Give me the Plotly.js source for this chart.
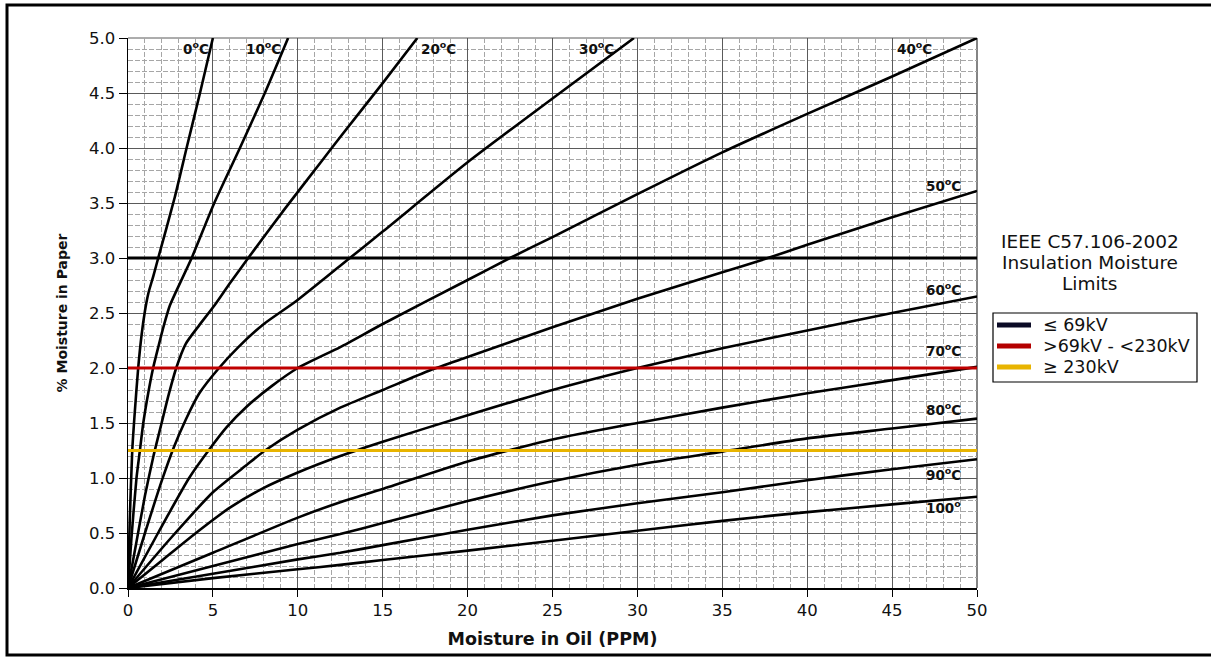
<!DOCTYPE html>
<html>
<head>
<meta charset="utf-8">
<script src="https://cdn.plot.ly/plotly-3.0.1.min.js"></script>
<style>
html,body{margin:0;padding:0;background:#fff;}
#chart{width:1211px;height:657px;}
</style>
</head>
<body>
<div id="chart"></div>
<script>
// ---- Data ----
const curveNames = ['0<sup>o</sup>C','10<sup>o</sup>C','20<sup>o</sup>C','30<sup>o</sup>C','40<sup>o</sup>C','50<sup>o</sup>C','60<sup>o</sup>C','70<sup>o</sup>C','80<sup>o</sup>C','90<sup>o</sup>C','100<sup>o</sup>'];

const oil_0C   = [0, 0.1, 0.25, 0.4, 0.6, 0.8, 1.0, 1.2, 1.5, 1.78, 2.75, 3.45, 4.24, 5.0];
const paper_0C = [0, 0.6, 1.25, 1.6, 2.0, 2.3, 2.52, 2.68, 2.84, 3.0, 3.55, 4.0, 4.5, 5.0];

const oil_10C   = [0, 0.2, 0.5, 0.7, 0.9, 1.2, 1.48, 1.8, 2.1, 2.47, 3.75, 5.08, 6.59, 8.06, 9.43];
const paper_10C = [0, 0.45, 1.0, 1.25, 1.5, 1.78, 2.0, 2.2, 2.38, 2.57, 3.0, 3.5, 4.0, 4.5, 5.0];

const oil_20C   = [0, 0.5, 1.0, 1.5, 1.98, 2.4, 2.84, 3.4, 4.2, 5.1, 6.0, 7.08, 9.2, 11.4, 12.5, 15.0, 17.04];
const paper_20C = [0, 0.42, 0.84, 1.2, 1.5, 1.76, 2.0, 2.22, 2.39, 2.57, 2.77, 3.0, 3.44, 3.88, 4.1, 4.59, 5.0];

const oil_30C   = [0, 1.0, 2.0, 2.7, 3.4, 4.2, 5.36, 6.5, 8.0, 9.83, 12.5, 15, 20, 25, 29.8];
const paper_30C = [0, 0.5, 0.98, 1.28, 1.53, 1.77, 2.0, 2.19, 2.4, 2.6, 2.93, 3.24, 3.87, 4.45, 5.0];

const oil_40C   = [0, 1.77, 3.6, 4.84, 5.8, 7.0, 8.5, 10, 12.5, 15, 20, 22.5, 25, 30, 35, 40, 45, 50];
const paper_40C = [0, 0.5, 1.0, 1.27, 1.46, 1.65, 1.84, 2.0, 2.19, 2.4, 2.8, 3.0, 3.19, 3.58, 3.96, 4.31, 4.65, 5.0];

const oil_50C   = [0, 2.5, 5.0, 7.0, 8.07, 10, 12.5, 15, 17.8, 20, 25, 30, 35, 37.5, 40, 45, 50];
const paper_50C = [0, 0.45, 0.87, 1.12, 1.25, 1.44, 1.64, 1.8, 1.98, 2.1, 2.37, 2.63, 2.87, 2.99, 3.12, 3.37, 3.61];

const oil_60C   = [0, 2, 4, 6, 8, 10, 12.5, 15, 20, 25, 30, 35, 40, 45, 50];
const paper_60C = [0, 0.25, 0.5, 0.73, 0.91, 1.05, 1.2, 1.33, 1.57, 1.8, 2.0, 2.18, 2.34, 2.5, 2.65];

const oil_70C   = [0, 5, 10, 12.5, 15, 20, 25, 30, 35, 40, 45, 50];
const paper_70C = [0, 0.32, 0.64, 0.78, 0.9, 1.15, 1.35, 1.5, 1.64, 1.77, 1.89, 2.01];

const oil_80C   = [0, 5, 10, 12.5, 15, 20, 25, 30, 35, 40, 45, 50];
const paper_80C = [0, 0.2, 0.4, 0.49, 0.59, 0.79, 0.97, 1.12, 1.24, 1.36, 1.45, 1.54];

const oil_90C   = [0, 5, 10, 12.5, 15, 20, 25, 30, 35, 40, 45, 50];
const paper_90C = [0, 0.13, 0.26, 0.32, 0.39, 0.53, 0.66, 0.77, 0.87, 0.98, 1.08, 1.17];

const oil_100C   = [0, 5, 10, 12.5, 15, 20, 25, 30, 35, 40, 45, 50];
const paper_100C = [0, 0.09, 0.17, 0.21, 0.255, 0.34, 0.43, 0.52, 0.61, 0.69, 0.76, 0.83];

const limitNames  = ['\u2264 69kV', '>69kV - <230kV', '\u2265 230kV'];
const limitValues = [3.0, 2.0, 1.25];
const limitOilSpan = [0, 50.5];

const xTickVals = [0,5,10,15,20,25,30,35,40,45,50];
const yTickVals = [0,0.5,1,1.5,2,2.5,3,3.5,4,4.5,5];
const legendTitleLines = ['IEEE C57.106-2002', 'Insulation Moisture', 'Limits'];

// ---- Styles ----
const FONT = 'DejaVu Sans, Verdana, sans-serif';
const limitColors  = ['#000000', '#c00000', '#e8b400'];
const legendColors = ['#0b0b26', '#b40000', '#e8b400'];
const gridMajor = '#5a5a5a';
const gridMinor = '#a6a6a6';
const minorDash = '5px,2px';

// ---- Build traces ----
const curveX = [oil_0C, oil_10C, oil_20C, oil_30C, oil_40C, oil_50C, oil_60C, oil_70C, oil_80C, oil_90C, oil_100C];
const curveY = [paper_0C, paper_10C, paper_20C, paper_30C, paper_40C, paper_50C, paper_60C, paper_70C, paper_80C, paper_90C, paper_100C];

const traces = [];
for (let i = 0; i < curveX.length; i++) {
  traces.push({
    x: curveX[i], y: curveY[i], type: 'scatter', mode: 'lines',
    line: {color: '#000', width: 2.6, shape: 'spline', smoothing: 0.6},
    showlegend: false, hoverinfo: 'skip', cliponaxis: true
  });
}
for (let i = 0; i < limitValues.length; i++) {
  traces.push({
    x: limitOilSpan, y: [limitValues[i], limitValues[i]], type: 'scatter', mode: 'lines',
    line: {color: limitColors[i], width: 3}, name: limitNames[i], cliponaxis: false,
    showlegend: false, hoverinfo: 'skip'
  });
}

// ---- Annotations ----
const labelPos = [[4.0,4.91],[8.0,4.91],[18.3,4.91],[27.6,4.91],[46.3,4.91],[48.0,3.66],[48.0,2.72],[48.0,2.16],[48.0,1.63],[48.0,1.04],[48.0,0.74]];
const annotations = curveNames.map((t, i) => ({
  x: labelPos[i][0], y: labelPos[i][1], xref: 'x', yref: 'y', text: '<b>' + t + '</b>',
  showarrow: false, font: {family: FONT, size: 13.5, color: '#111'}
}));
const pxX = p => (p - 128) / 849;   // figure px -> paper x
const pxY = p => (588 - p) / 550;   // figure px -> paper y
const titleRowY = [241, 262, 283];
legendTitleLines.forEach((t, i) => annotations.push({
  x: pxX(1090), y: pxY(titleRowY[i]), xref: 'paper', yref: 'paper', xanchor: 'center', yanchor: 'middle',
  text: t, showarrow: false, font: {family: FONT, size: 18.5, color: '#111'}
}));

// manual legend: box, line samples and labels
const legendRowY = [325, 346, 367];
const shapes = [
  {type: 'rect', xref: 'paper', yref: 'paper', x0: pxX(7), x1: pxX(1340), y0: pxY(655), y1: pxY(5),
   line: {color: '#000', width: 3}, fillcolor: 'rgba(0,0,0,0)', layer: 'above'},
  {type: 'rect', xref: 'paper', yref: 'paper', x0: pxX(993), x1: pxX(1197), y0: pxY(382), y1: pxY(313),
   line: {color: '#000', width: 1.2}, fillcolor: '#fff', layer: 'above'}
];
limitNames.forEach((n, i) => {
  shapes.push({type: 'line', xref: 'paper', yref: 'paper', x0: pxX(997), x1: pxX(1031),
    y0: pxY(legendRowY[i]), y1: pxY(legendRowY[i]), line: {color: legendColors[i], width: 5}, layer: 'above'});
  annotations.push({x: pxX(1041), y: pxY(legendRowY[i]), xref: 'paper', yref: 'paper',
    xanchor: 'left', yanchor: 'middle', text: n, showarrow: false,
    font: {family: FONT, size: 17.5, color: '#111'}});
});

const layout = {
  width: 1211, height: 657,
  margin: {l: 128, r: 234, t: 38, b: 69, pad: 0},
  paper_bgcolor: '#fff', plot_bgcolor: '#fff',
  font: {family: FONT, size: 16, color: '#111'},
  showlegend: false,
  xaxis: {
    range: [0, 50], tickvals: xTickVals, ticktext: xTickVals.map(String),
    showgrid: true, gridcolor: gridMajor, gridwidth: 1,
    zeroline: false, showline: true, linecolor: '#000', linewidth: 1.5, mirror: false,
    ticks: 'outside', ticklen: 7, tickcolor: '#000', tickwidth: 1,
    tickfont: {family: FONT, size: 16.5, color: '#111'},
    minor: {dtick: 1, tick0: 0, showgrid: true, gridcolor: gridMinor, griddash: minorDash, gridwidth: 1, ticks: ''},
    title: {text: '<b>Moisture in Oil (PPM)</b>', font: {family: FONT, size: 17.5, color: '#111'}, standoff: 13},
    fixedrange: true
  },
  yaxis: {
    range: [0, 5], tickvals: yTickVals, ticktext: yTickVals.map(v => v.toFixed(1)),
    showgrid: true, gridcolor: gridMajor, gridwidth: 1,
    zeroline: false, showline: true, linecolor: '#000', linewidth: 1.5, mirror: false,
    ticks: 'outside', ticklen: 8, tickcolor: '#000', tickwidth: 1,
    tickfont: {family: FONT, size: 16.5, color: '#111'},
    minor: {dtick: 0.1, tick0: 0, showgrid: true, gridcolor: gridMinor, griddash: minorDash, gridwidth: 1, ticks: ''},
    title: {text: '<b>% Moisture in Paper</b>', font: {family: FONT, size: 14, color: '#111'}, standoff: 18},
    fixedrange: true
  },
  annotations: annotations,
  shapes: shapes.concat([
    {type: 'line', xref: 'paper', yref: 'paper', x0: 1, x1: 1, y0: 0, y1: 1,
     line: {color: '#333', width: 1.2}, layer: 'below'},
    {type: 'line', xref: 'paper', yref: 'paper', x0: 0, x1: 1, y0: 1, y1: 1,
     line: {color: gridMajor, width: 1}, layer: 'below'}
  ])
};

Plotly.newPlot('chart', traces, layout, {displayModeBar: false, staticPlot: true});
</script>
</body>
</html>
